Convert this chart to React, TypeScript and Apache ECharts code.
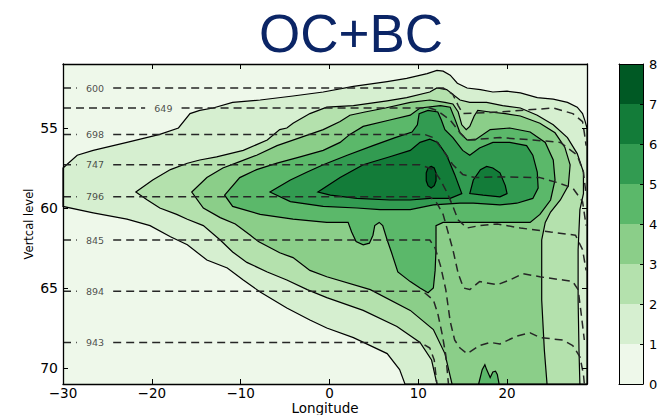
import React, { useEffect, useRef } from 'react';
import * as echarts from 'echarts';

// ---------- axis extents & ticks ----------
const LON_MIN = -30;
const LON_MAX = 29;
const LEV_MIN = 51;
const LEV_MAX = 71;
const lonTicks = [-30, -20, -10, 0, 10, 20];
const levelTicks = [55, 60, 65, 70];
const colorbarTicks = [0, 1, 2, 3, 4, 5, 6, 7, 8];
const levelColors = ['#eef8ea', '#d6efd0', '#b4e1ad', '#8bce89', '#5bb86a', '#329b51', '#137c39', '#005924'];

// ---------- filled contour regions: [longitude, vertical level] ----------
const region1 = [
  [-30, 57.5], [-28.4, 56.7], [-26.6, 56.4], [-22.8, 55.9], [-19.1, 55.4], [-17.0, 55.0], [-15.7, 54.1],
  [-14.6, 53.9], [-13.1, 53.75], [-10.9, 53.4], [-7.8, 53.25], [-4.1, 53.0], [-0.7, 52.75], [2.7, 52.4],
  [6.5, 52.1], [8.7, 51.9], [11.0, 51.6], [12.1, 51.4], [12.8, 51.45], [13.6, 51.7], [14.4, 52.2],
  [15.5, 52.5], [17.0, 52.6], [18.4, 52.75], [20.0, 52.7], [21.5, 52.8], [23.4, 53.1], [25.2, 53.2],
  [26.8, 53.4], [27.9, 53.7], [28.5, 54.1], [28.8, 54.6], [29, 55.0], [29, 71], [8.5, 71], [7.9, 70.1],
  [6.5, 69.1], [2.7, 68.1], [-0.3, 67.5], [-2.2, 67.0], [-4.8, 66.25], [-7.8, 65.25], [-9.7, 64.5],
  [-11.5, 63.75], [-13.8, 63.25], [-16.0, 62.3], [-17.9, 61.8], [-20.2, 61.1], [-22.8, 60.7],
  [-26.6, 60.3], [-30, 59.9]
];
const region2 = [
  [-21.8, 59.0], [-19.9, 58.25], [-17.9, 57.6], [-16.0, 57.2], [-14.6, 57.0], [-12.7, 56.8], [-9.7, 56.4],
  [-7.0, 55.75], [-5.6, 55.1], [-4.8, 55.0], [-4.1, 54.7], [-2.2, 54.1], [-0.3, 53.7], [2.7, 53.6],
  [6.5, 53.3], [8.7, 53.1], [11.3, 52.75], [12.1, 52.5], [13.2, 52.6], [13.9, 52.9], [14.7, 53.25],
  [15.8, 53.4], [17.7, 53.4], [19.5, 53.6], [21.5, 53.75], [23.4, 54.2], [25.2, 54.8], [26.8, 55.6],
  [27.9, 56.6], [28.6, 57.75], [28.6, 59.1], [28.2, 60.1], [28.0, 62.6], [28.0, 65.75], [28.1, 68.9],
  [28.2, 71], [12.1, 71], [11.5, 69.5], [10.2, 68.4], [7.6, 67.4], [3.8, 66.4], [-0.3, 65.6],
  [-2.5, 65.1], [-4.8, 64.5], [-7.0, 64.0], [-9.3, 63.4], [-10.9, 62.75], [-12.3, 62.0], [-14.2, 61.1],
  [-16.0, 60.7], [-17.2, 60.4], [-19.1, 60.0], [-20.5, 59.5]
];
const region3 = [
  [-15.5, 59.0], [-13.8, 58.1], [-12.0, 57.5], [-10.1, 57.1], [-8.2, 56.7], [-5.9, 56.1], [-3.3, 55.6],
  [-0.7, 55.1], [1.2, 54.6], [2.3, 54.2], [4.0, 54.0], [6.3, 53.75], [9.1, 53.4], [11.3, 53.25],
  [13.0, 53.4], [13.9, 53.5], [14.5, 54.0], [14.9, 54.8], [15.4, 55.1], [15.8, 54.9], [16.3, 54.25],
  [16.7, 53.9], [18.1, 54.0], [19.8, 54.1], [21.5, 54.25], [23.7, 54.7], [25.4, 55.3], [26.5, 56.2],
  [27.1, 57.3], [26.9, 58.6], [26.0, 59.5], [24.9, 60.25], [24.3, 60.9], [23.9, 62.0], [23.9, 65.75],
  [24.2, 68.9], [24.5, 71], [13.8, 71], [13.0, 69.1], [11.7, 67.6], [9.1, 66.4], [4.6, 65.1],
  [-0.3, 64.3], [-2.2, 63.9], [-4.1, 63.1], [-5.6, 62.8], [-8.0, 62.1], [-8.9, 61.7], [-10.6, 61.0],
  [-12.3, 60.6], [-14.2, 60.0]
];
const region4 = [
  [-11.8, 59.2], [-10.1, 58.1], [-8.2, 57.6], [-5.9, 57.2], [-3.3, 56.8], [-0.7, 56.4], [1.2, 55.9],
  [2.3, 55.4], [3.8, 54.9], [6.8, 54.5], [9.1, 54.2], [10.2, 53.75], [12.5, 53.6], [13.6, 53.7],
  [14.1, 54.4], [14.7, 55.3], [15.5, 55.75], [16.4, 55.75], [18.1, 55.1], [20.3, 55.0], [22.6, 55.25],
  [24.3, 55.9], [25.2, 57.0], [25.4, 58.25], [24.9, 59.5], [23.7, 60.4], [22.6, 60.9], [19.2, 60.9],
  [15.8, 60.9], [12.8, 60.9], [12.0, 61.1], [12.0, 62.6], [11.9, 63.9], [11.7, 65.0], [11.1, 65.3],
  [10.2, 65.0], [9.1, 64.6], [7.7, 64.0], [7.0, 62.8], [6.5, 62.0], [6.0, 61.1], [5.6, 60.9],
  [5.1, 61.1], [4.9, 61.7], [4.5, 62.2], [3.8, 62.3], [3.0, 62.1], [2.5, 61.5], [2.1, 60.9],
  [-0.3, 60.9], [-4.1, 60.7], [-7.8, 60.4], [-10.9, 59.9]
];
const region4b = [
  [16.8, 71], [17.2, 70.1], [17.5, 69.8], [17.7, 70.1], [18.1, 70.6], [18.4, 70.25], [18.7, 70.2],
  [18.9, 70.4], [19.1, 71]
];
const region5 = [
  [-6.7, 59.0], [-4.4, 58.25], [-2.5, 57.75], [-0.7, 57.3], [2.0, 56.7], [4.9, 56.1], [7.4, 55.6],
  [9.3, 55.25], [9.9, 54.8], [10.1, 54.1], [11.1, 53.9], [12.2, 54.0], [12.6, 54.5], [13.0, 55.1],
  [13.9, 55.6], [15.0, 56.4], [15.8, 56.7], [16.9, 56.25], [18.4, 55.9], [20.3, 55.9], [22.2, 56.1],
  [22.9, 56.7], [23.4, 57.75], [23.5, 58.75], [22.9, 59.4], [21.1, 59.7], [19.2, 59.8], [16.2, 59.7],
  [14.7, 59.7], [11.7, 59.8], [9.1, 60.1], [5.7, 60.1], [3.1, 60.0], [-0.7, 59.9], [-4.4, 59.6]
];
const region6a = [
  [-1.3, 59.0], [1.2, 58.1], [3.8, 57.3], [6.8, 56.8], [9.1, 56.4], [10.2, 55.9], [11.3, 55.7],
  [12.2, 55.9], [13.2, 56.7], [14.1, 57.9], [14.9, 59.1], [13.6, 59.4], [11.3, 59.4], [9.1, 59.5],
  [6.8, 59.5], [3.1, 59.4], [0.1, 59.2]
];
const region6b = [
  [15.8, 59.1], [16.2, 58.25], [17.0, 57.6], [17.7, 57.4], [18.4, 57.5], [19.2, 57.8], [19.8, 58.6],
  [20.0, 59.1], [19.2, 59.3], [17.3, 59.2]
];
const region7 = [
  [11.45, 57.4], [11.8, 57.5], [12.0, 57.8], [12.0, 58.3], [11.8, 58.6], [11.45, 58.75], [11.1, 58.6],
  [10.9, 58.3], [10.9, 57.8], [11.1, 57.5]
];
const regionValues = [1, 2, 3, 4, 4, 5, 6, 6, 7];
const regionShapes = [region1, region2, region3, region4, region4b, region5, region6a, region6b, region7];

// ---------- dashed pressure lines (hPa) on model levels ----------
const pressureNames = ['600', '649', '698', '747', '796', '845', '894', '943'];
const p600 = [[-30, 52.5], [11.3, 52.5], [12.8, 52.5], [13.9, 52.9], [14.5, 53.6], [15.0, 54.1], [19.2, 54.0],
  [25.2, 53.75], [27.4, 54.1], [28.5, 54.6], [28.7, 55.3], [28.9, 56.1]];
const p649 = [[-30, 53.75], [11.3, 53.75], [12.1, 53.9], [13.6, 54.5], [14.7, 55.3], [15.5, 55.75],
  [19.2, 55.6], [22.9, 55.75], [26.0, 55.9], [27.9, 56.7], [28.6, 57.75], [28.9, 59.2]];
const p698 = [[-30, 55.4], [10.7, 55.4], [11.7, 55.6], [12.8, 56.4], [13.9, 57.3], [15.0, 57.9], [16.4, 58.1],
  [19.2, 58.05], [23.7, 58.1], [25.6, 58.4], [27.4, 58.75], [28.5, 59.6], [28.9, 61.1]];
const p747 = [[-30, 57.3], [10.2, 57.3], [11.7, 57.6], [12.5, 58.25], [13.3, 59.1], [13.9, 59.9], [14.5, 60.75],
  [15.5, 61.25], [16.9, 61.1], [18.9, 61.0], [21.5, 61.25], [24.9, 61.5], [27.7, 61.7], [28.5, 62.6], [28.9, 63.9]];
const p796 = [[-30, 59.3], [11.3, 59.3], [12.1, 59.7], [12.8, 60.4], [13.3, 61.4], [13.9, 62.6], [14.5, 64.1],
  [15.1, 65.0], [15.8, 65.1], [16.9, 64.6], [18.9, 64.8], [20.3, 64.5], [21.8, 64.1], [23.7, 64.3],
  [26.3, 64.5], [27.4, 64.6], [28.0, 65.1], [28.3, 66.4], [28.7, 68.25]];
const p845 = [[-30, 62.0], [11.3, 62.0], [11.9, 62.5], [12.5, 63.6], [13.1, 65.1], [13.6, 67.1], [14.1, 68.25],
  [14.7, 68.75], [15.5, 69.1], [16.9, 68.6], [18.1, 68.4], [19.2, 68.5], [21.1, 68.0], [22.6, 67.8],
  [23.7, 68.1], [26.3, 68.25], [27.4, 68.6], [28.2, 69.3], [28.6, 70.4], [28.7, 71]];
const p894 = [[-30, 65.2], [10.5, 65.2], [11.7, 65.75], [12.2, 66.6], [12.7, 67.9], [13.1, 69.2], [13.4, 71]];
const p943 = [[-30, 68.4], [10.2, 68.4], [11.3, 68.75], [11.8, 69.5], [12.1, 71]];
const pressureLines = [p600, p649, p698, p747, p796, p845, p894, p943];
const pressureLabelLon = [-26.4, -18.7, -26.4, -26.4, -26.4, -26.4, -26.4, -26.4];
const LABEL_HALF_GAP = 2.05;

const FONT = 'DejaVu Sans';
const minus = (v: number) => (v < 0 ? '\u2212' + Math.abs(v) : String(v));

function withGap(pts: number[][], c: number, half: number) {
  const out: any[] = [];
  let done = false;
  const y0 = pts[0][1];
  for (const p of pts) {
    if (!done && p[0] > c - half) {
      out.push([c - half, y0], [c, '-'], [c + half, y0]);
      done = true;
    }
    if (done && p[0] <= c + half) continue;
    out.push(p);
  }
  return out;
}

export default function App() {
  const ref = useRef<HTMLDivElement>(null);
  useEffect(() => {
    if (!ref.current) return;
    const chart = echarts.init(ref.current, undefined, { renderer: 'svg' });

    const frameAxis = { show: true, onZero: false, lineStyle: { color: '#000', width: 1.3 } };
    const tickStyle = { color: '#000', width: 1 };

    const lineSeries = pressureLines.map((pts, i) => ({
      type: 'line',
      xAxisIndex: 0,
      yAxisIndex: 0,
      data: withGap(pts, pressureLabelLon[i], LABEL_HALF_GAP),
      showSymbol: false,
      symbol: 'none',
      connectNulls: false,
      silent: true,
      z: 3,
      lineStyle: { color: '#262626', width: 1.5, type: [8, 5] },
    }));

    const option: any = {
      animation: false,
      title: {
        text: 'OC+BC',
        left: 254,
        top: 2,
        textStyle: { fontSize: 53, fontWeight: 'normal', color: '#0b2566', fontFamily: 'Liberation Sans' },
      },
      grid: [
        {
          left: 63, top: 64, width: 524, height: 320, show: true, backgroundColor: levelColors[0], borderWidth: 0,
          outerBoundsMode: 'none', containLabel: false,
        },
        { left: 619, top: 64, width: 24, height: 320, show: false, outerBoundsMode: 'none', containLabel: false },
      ],
      xAxis: [
        {
          gridIndex: 0, type: 'value', min: LON_MIN, max: LON_MAX, position: 'bottom', z: 10,
          axisLine: frameAxis,
          axisTick: { show: true, inside: true, length: 5, customValues: lonTicks, lineStyle: tickStyle },
          axisLabel: {
            customValues: lonTicks, formatter: minus, fontSize: 13.5, lineHeight: 12, color: '#000', margin: 3, fontFamily: FONT,
          },
          splitLine: { show: false },
          name: 'Longitude', nameLocation: 'middle', nameGap: 18, nameMoveOverlap: false,
          nameTextStyle: { fontSize: 13.5, color: '#000', fontFamily: FONT, verticalAlign: 'top', lineHeight: 12 },
        },
        {
          gridIndex: 0, type: 'value', min: LON_MIN, max: LON_MAX, position: 'top', z: 10,
          axisLine: frameAxis,
          axisTick: { show: true, inside: true, length: 5, customValues: lonTicks, lineStyle: tickStyle },
          axisLabel: { show: false }, splitLine: { show: false },
        },
        {
          gridIndex: 1, type: 'value', min: 0, max: 1, position: 'bottom', z: 10,
          axisLine: { show: true, onZero: false, lineStyle: { color: '#000', width: 1 } },
          axisTick: { show: false }, axisLabel: { show: false }, splitLine: { show: false },
        },
        {
          gridIndex: 1, type: 'value', min: 0, max: 1, position: 'top', z: 10,
          axisLine: { show: true, onZero: false, lineStyle: { color: '#000', width: 1 } },
          axisTick: { show: false }, axisLabel: { show: false }, splitLine: { show: false },
        },
      ],
      yAxis: [
        {
          gridIndex: 0, type: 'value', inverse: true, min: LEV_MIN, max: LEV_MAX, position: 'left', z: 10,
          axisLine: frameAxis,
          axisTick: { show: true, inside: true, length: 5, customValues: levelTicks, lineStyle: tickStyle },
          axisLabel: { customValues: levelTicks, fontSize: 14, color: '#000', margin: 5, fontFamily: FONT },
          splitLine: { show: false },
          name: 'Vertcal level', nameLocation: 'middle', nameGap: 28, nameRotate: 90, nameMoveOverlap: false,
          nameTextStyle: { fontSize: 11.5, color: '#000', fontFamily: FONT },
        },
        {
          gridIndex: 0, type: 'value', inverse: true, min: LEV_MIN, max: LEV_MAX, position: 'right', z: 10,
          axisLine: frameAxis,
          axisTick: { show: true, inside: true, length: 5, customValues: levelTicks, lineStyle: tickStyle },
          axisLabel: { show: false }, splitLine: { show: false },
        },
        {
          gridIndex: 1, type: 'value', min: 0, max: 8, interval: 1, position: 'right', z: 10,
          axisLine: { show: true, onZero: false, lineStyle: { color: '#000', width: 1 } },
          axisTick: { show: true, inside: true, length: 3, lineStyle: tickStyle },
          axisLabel: { fontSize: 13, color: '#000', margin: 6, fontFamily: FONT },
          splitLine: { show: false },
        },
        {
          gridIndex: 1, type: 'value', min: 0, max: 8, interval: 1, position: 'left', z: 10,
          axisLine: { show: true, onZero: false, lineStyle: { color: '#000', width: 1 } },
          axisTick: { show: false }, axisLabel: { show: false }, splitLine: { show: false },
        },
      ],
      series: [
        {
          type: 'custom',
          xAxisIndex: 0,
          yAxisIndex: 0,
          silent: true,
          z: 2,
          data: regionShapes.map((s) => s[0]),
          renderItem: (params: any, api: any) => {
            const shape = regionShapes[params.dataIndex];
            const points = shape.map((p) => api.coord(p));
            return {
              type: 'polygon',
              shape: { points },
              style: { fill: levelColors[regionValues[params.dataIndex]], stroke: '#000', lineWidth: 1.2 },
            };
          },
        },
        ...lineSeries,
        {
          type: 'scatter',
          xAxisIndex: 0,
          yAxisIndex: 0,
          symbolSize: 0,
          silent: true,
          z: 4,
          data: pressureNames.map((n, i) => ({ name: n, value: [pressureLabelLon[i], pressureLines[i][0][1]] })),
          label: {
            show: true, position: 'inside', formatter: '{b}', fontSize: 9.5, color: '#222', fontFamily: FONT,
          },
        },
        {
          type: 'custom',
          xAxisIndex: 2,
          yAxisIndex: 2,
          silent: true,
          z: 2,
          data: colorbarTicks.slice(0, -1).map((v) => [0, v]),
          renderItem: (params: any, api: any) => {
            const lo = api.value(1);
            const a = api.coord([0, lo]);
            const b = api.coord([1, lo + 1]);
            return {
              type: 'rect',
              shape: { x: a[0], y: b[1], width: b[0] - a[0], height: a[1] - b[1] },
              style: { fill: levelColors[params.dataIndex] },
            };
          },
        },
      ],
    };
    chart.setOption(option);
    return () => chart.dispose();
  }, []);

  return <div ref={ref} style={{ position: 'absolute', left: 0, top: 0, width: 661, height: 415 }} />;
}
